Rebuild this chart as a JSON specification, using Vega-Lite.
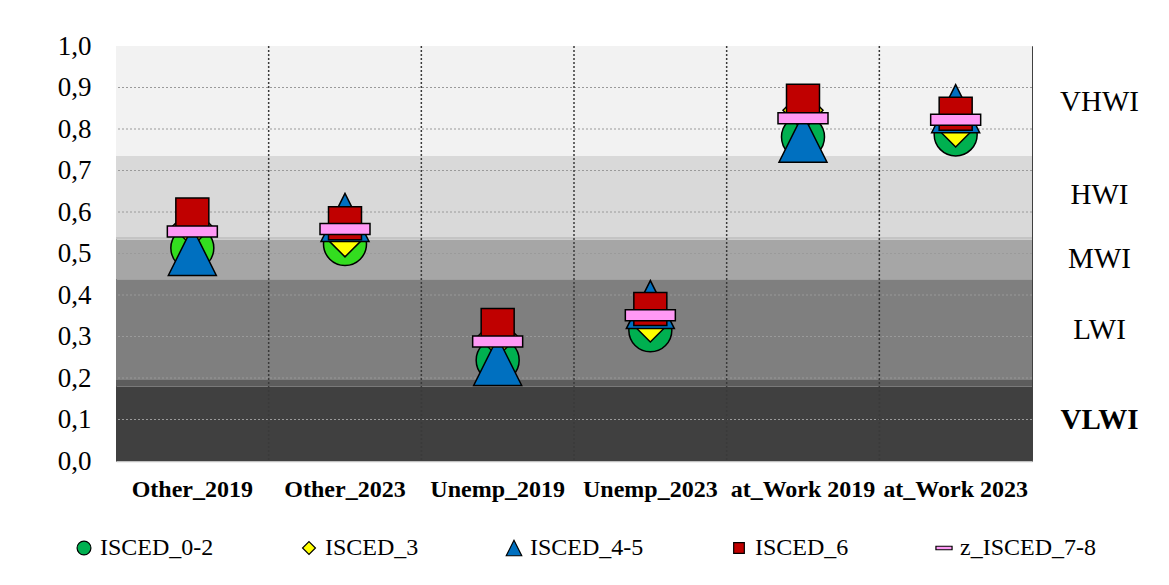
{
  "$schema": "https://vega.github.io/schema/vega-lite/v6.json",
  "autosize": {"type": "none"},
  "width": 916,
  "height": 415,
  "padding": {"left": 116, "top": 46, "right": 137, "bottom": 124},
  "background": "white",
  "config": {
    "view": {"stroke": "#404040", "strokeWidth": 1},
    "font": "Liberation Serif",
    "axis": {"labelFont": "Liberation Serif", "labelColor": "black"},
    "axisX": {"labelFont": "Liberation Serif", "labelFontSize": 24, "labelFontWeight": "bold"},
    "legend": {"labelFont": "Liberation Serif", "labelFontSize": 24, "labelColor": "black"}
  },
  "datasets": {
    "bands": [
      {"band": "VLWI", "lo": 0, "hi": 0.179},
      {"band": "edge1", "lo": 0.179, "hi": 0.195},
      {"band": "LWI", "lo": 0.195, "hi": 0.438},
      {"band": "MWI", "lo": 0.438, "hi": 0.533},
      {"band": "edge2", "lo": 0.533, "hi": 0.54},
      {"band": "HWI", "lo": 0.54, "hi": 0.735},
      {"band": "VHWI", "lo": 0.735, "hi": 1}
    ],
    "hlines": [
      {"v": 0.1}, {"v": 0.2}, {"v": 0.3}, {"v": 0.4}, {"v": 0.5},
      {"v": 0.6}, {"v": 0.7}, {"v": 0.8}, {"v": 0.9}
    ],
    "vlines": [
      {"cat": "Other_2023"}, {"cat": "Unemp_2019"}, {"cat": "Unemp_2023"},
      {"cat": "at_Work 2019"}, {"cat": "at_Work 2023"}
    ],
    "points": [
      {"cat": "Other_2019", "series": "ISCED_0-2", "value": 0.513},
      {"cat": "Other_2023", "series": "ISCED_0-2", "value": 0.523},
      {"cat": "Unemp_2019", "series": "ISCED_0-2", "value": 0.243},
      {"cat": "Unemp_2023", "series": "ISCED_0-2", "value": 0.315},
      {"cat": "at_Work 2019", "series": "ISCED_0-2", "value": 0.781},
      {"cat": "at_Work 2023", "series": "ISCED_0-2", "value": 0.787},
      {"cat": "Other_2019", "series": "ISCED_3", "value": 0.565},
      {"cat": "Other_2023", "series": "ISCED_3", "value": 0.54},
      {"cat": "Unemp_2019", "series": "ISCED_3", "value": 0.30},
      {"cat": "Unemp_2023", "series": "ISCED_3", "value": 0.335},
      {"cat": "at_Work 2019", "series": "ISCED_3", "value": 0.845},
      {"cat": "at_Work 2023", "series": "ISCED_3", "value": 0.805},
      {"cat": "Other_2019", "series": "ISCED_4-5", "value": 0.505},
      {"cat": "Other_2023", "series": "ISCED_4-5", "value": 0.587},
      {"cat": "Unemp_2019", "series": "ISCED_4-5", "value": 0.24},
      {"cat": "Unemp_2023", "series": "ISCED_4-5", "value": 0.377},
      {"cat": "at_Work 2019", "series": "ISCED_4-5", "value": 0.778},
      {"cat": "at_Work 2023", "series": "ISCED_4-5", "value": 0.849},
      {"cat": "Other_2019", "series": "ISCED_6", "value": 0.594},
      {"cat": "Other_2023", "series": "ISCED_6", "value": 0.573},
      {"cat": "Unemp_2019", "series": "ISCED_6", "value": 0.328},
      {"cat": "Unemp_2023", "series": "ISCED_6", "value": 0.366},
      {"cat": "at_Work 2019", "series": "ISCED_6", "value": 0.868},
      {"cat": "at_Work 2023", "series": "ISCED_6", "value": 0.837},
      {"cat": "Other_2019", "series": "z_ISCED_7-8", "value": 0.553},
      {"cat": "Other_2023", "series": "z_ISCED_7-8", "value": 0.559},
      {"cat": "Unemp_2019", "series": "z_ISCED_7-8", "value": 0.288},
      {"cat": "Unemp_2023", "series": "z_ISCED_7-8", "value": 0.351},
      {"cat": "at_Work 2019", "series": "z_ISCED_7-8", "value": 0.826},
      {"cat": "at_Work 2023", "series": "z_ISCED_7-8", "value": 0.822}
    ]
  },
  "resolve": {"axis": {"y": "independent"}},
  "layer": [
    {
      "data": {"name": "bands"},
      "mark": {"type": "rect"},
      "encoding": {
        "y": {
          "field": "lo", "type": "quantitative",
          "scale": {"domain": [0, 1], "nice": false},
          "axis": {
            "orient": "right", "title": null, "grid": false, "domain": false, "ticks": false,
            "values": [0.867, 0.641, 0.489, 0.318, 0.101],
            "labelExpr": "datum.value > 0.8 ? 'VHWI' : datum.value > 0.6 ? 'HWI' : datum.value > 0.4 ? 'MWI' : datum.value > 0.2 ? 'LWI' : 'VLWI'",
            "labelAlign": "center", "labelBaseline": "middle", "labelPadding": 67,
            "labelFont": "Liberation Serif", "labelFontSize": 29, "labelColor": "black",
            "labelFontWeight": {"condition": {"test": "datum.value < 0.2", "value": "bold"}, "value": "normal"},
            "labelOverlap": false, "labelBound": false, "labelFlush": false
          }
        },
        "y2": {"field": "hi"},
        "fill": {
          "field": "band", "type": "nominal", "legend": null,
          "scale": {
            "domain": ["VLWI", "edge1", "LWI", "MWI", "edge2", "HWI", "VHWI"],
            "range": ["#404040", "#5c5c5c", "#7f7f7f", "#a6a6a6", "#c4c4c4", "#d9d9d9", "#f2f2f2"]
          }
        }
      }
    },
    {
      "data": {"name": "hlines"},
      "mark": {"type": "rule", "color": "#9a9a9a", "strokeDash": [2, 2], "strokeWidth": 1},
      "encoding": {
        "y": {"field": "v", "type": "quantitative", "axis": null}
      }
    },
    {
      "data": {"name": "vlines"},
      "mark": {"type": "rule", "color": "#3a3a3a", "strokeDash": [2, 2], "strokeWidth": 1.5},
      "encoding": {
        "x": {
          "field": "cat", "type": "nominal", "bandPosition": 0, "sort": null,
          "scale": {
            "type": "band", "paddingInner": 0, "paddingOuter": 0,
            "domain": ["Other_2019", "Other_2023", "Unemp_2019", "Unemp_2023", "at_Work 2019", "at_Work 2023"]
          },
          "axis": {
            "title": null, "labelAngle": 0, "ticks": false, "grid": false,
            "domain": true, "domainColor": "#c0c0c0", "domainWidth": 1.5,
            "labelFont": "Liberation Serif", "labelFontSize": 24, "labelFontWeight": "bold",
            "labelColor": "black", "labelPadding": 16, "labelOverlap": false, "labelLimit": 0
          }
        }
      }
    },
    {
      "data": {"name": "points"},
      "mark": {"type": "point", "filled": true, "opacity": 1, "stroke": "black", "strokeWidth": 1.5, "size": 2500},
      "encoding": {
        "x": {
          "field": "cat", "type": "nominal", "sort": null,
          "scale": {
            "type": "band", "paddingInner": 0, "paddingOuter": 0,
            "domain": ["Other_2019", "Other_2023", "Unemp_2019", "Unemp_2023", "at_Work 2019", "at_Work 2023"]
          },
          "axis": {
            "title": null, "labelAngle": 0, "ticks": false, "grid": false,
            "domain": true, "domainColor": "#c0c0c0", "domainWidth": 1.5,
            "labelFont": "Liberation Serif", "labelFontSize": 24, "labelFontWeight": "bold",
            "labelColor": "black", "labelPadding": 16, "labelOverlap": false, "labelLimit": 0
          }
        },
        "y": {
          "field": "value", "type": "quantitative",
          "scale": {"domain": [0, 1], "nice": false},
          "axis": {
            "orient": "left", "title": null, "grid": false, "domain": false, "ticks": false,
            "values": [0, 0.1, 0.2, 0.3, 0.4, 0.5, 0.6, 0.7, 0.8, 0.9, 1.0],
            "labelExpr": "replace(format(datum.value, '.1f'), '.', ',')",
            "labelFont": "Liberation Serif", "labelFontSize": 27, "labelColor": "black",
            "labelPadding": 25, "labelOverlap": false, "labelBound": false, "labelFlush": false
          }
        },
        "color": {
          "condition": {
            "test": "datum.series === 'ISCED_0-2' && indexof(datum.cat, 'Other') === 0",
            "value": "#33dd1f"
          },
          "field": "series", "type": "nominal",
          "scale": {
            "domain": ["ISCED_0-2", "ISCED_3", "ISCED_4-5", "ISCED_6", "z_ISCED_7-8"],
            "range": ["#00b050", "#ffff00", "#0070c0", "#c00000", "#ff99f5"]
          },
          "legend": {
            "title": null, "orient": "none", "direction": "horizontal", "columns": 5,
            "legendX": -44, "legendY": 490,
            "labelFont": "Liberation Serif", "labelFontSize": 24, "labelColor": "black",
            "symbolSize": 260, "symbolStrokeColor": "black", "symbolStrokeWidth": 1.2,
            "labelOffset": 4, "columnPadding": 83, "symbolOpacity": 1,
            "encode": {
              "symbols": {"update": {"stroke": {"value": "black"}, "strokeWidth": {"value": 1.2}}},
              "labels": {"update": {"font": {"value": "Liberation Serif"}, "fontSize": {"value": 24}}}
            }
          }
        },
        "shape": {
          "field": "series", "type": "nominal",
          "scale": {
            "domain": ["ISCED_0-2", "ISCED_3", "ISCED_4-5", "ISCED_6", "z_ISCED_7-8"],
            "range": [
              "M0.86,0A0.86,0.86 0 1,1 -0.86,0A0.86,0.86 0 1,1 0.86,0Z",
              "M0,-0.8L0.8,0L0,0.8L-0.8,0Z",
              "M0,-0.96L-0.96,0.96L0.96,0.96Z",
              "M-0.66,-0.66L0.66,-0.66L0.66,0.66L-0.66,0.66Z",
              "M-1,-0.22L1,-0.22L1,0.22L-1,0.22Z"
            ]
          },
          "legend": {
            "title": null, "orient": "none", "direction": "horizontal", "columns": 5,
            "legendX": -44, "legendY": 490,
            "labelFont": "Liberation Serif", "labelFontSize": 24, "labelColor": "black",
            "symbolSize": 260, "symbolStrokeColor": "black", "symbolStrokeWidth": 1.2,
            "labelOffset": 4, "columnPadding": 83, "symbolOpacity": 1,
            "encode": {
              "symbols": {"update": {"stroke": {"value": "black"}, "strokeWidth": {"value": 1.2}}},
              "labels": {"update": {"font": {"value": "Liberation Serif"}, "fontSize": {"value": 24}}}
            }
          }
        }
      }
    }
  ]
}
